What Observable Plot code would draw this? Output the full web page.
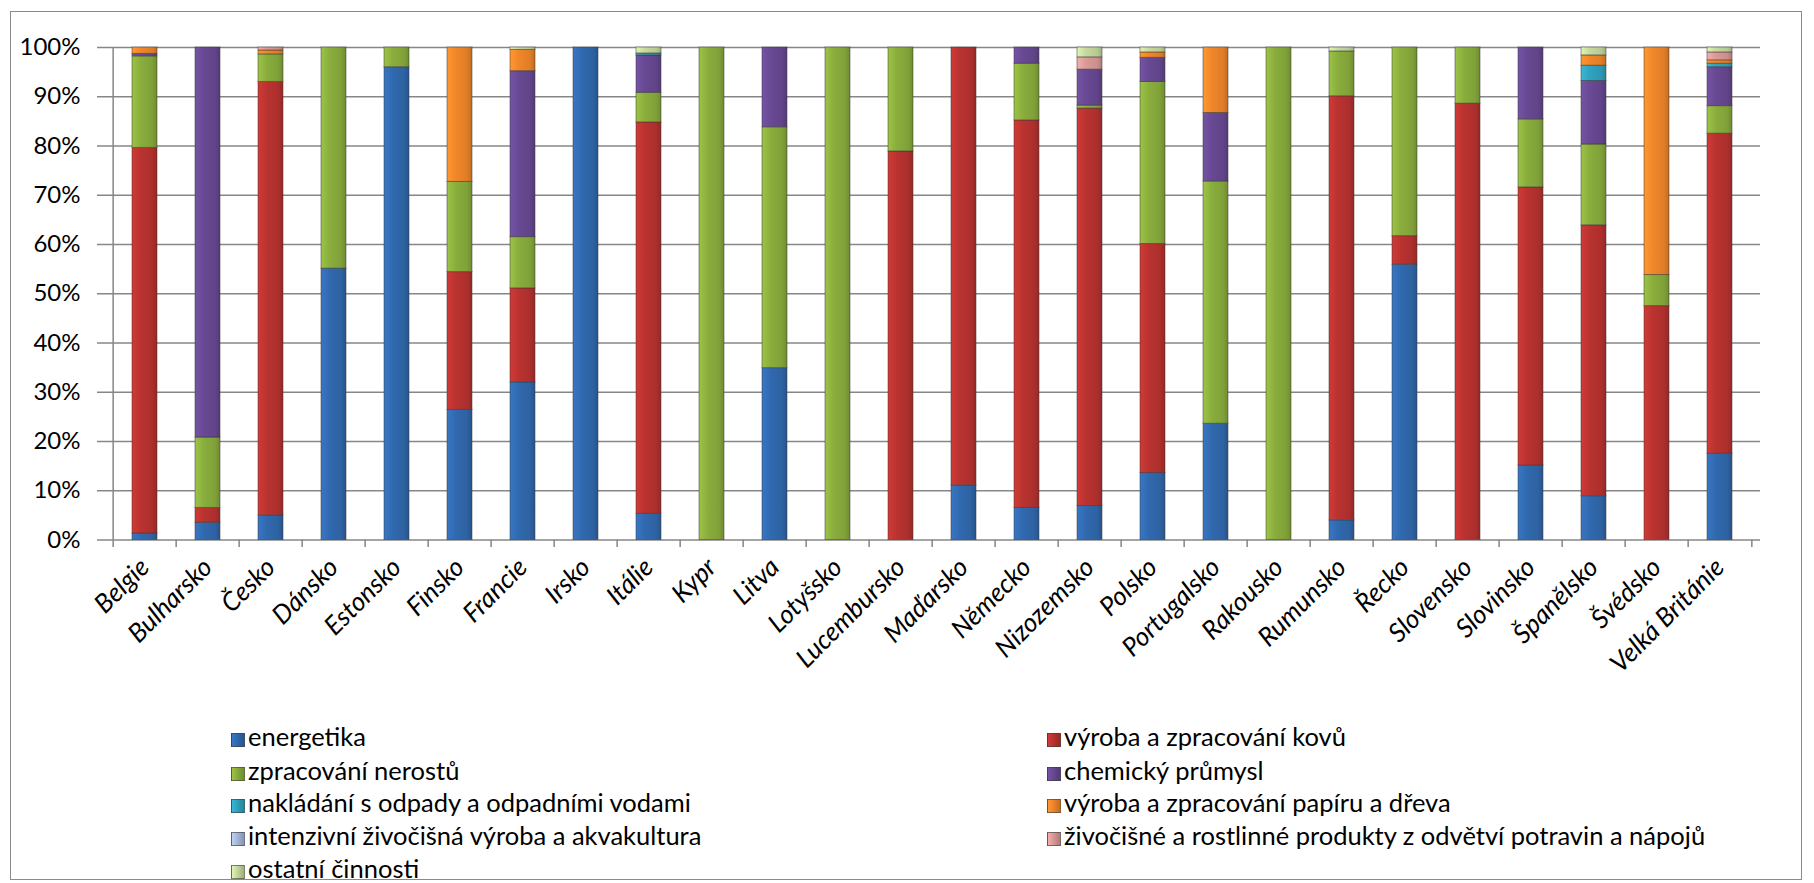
<!DOCTYPE html>
<html>
<head>
<meta charset="utf-8">
<script src="https://cdn.jsdelivr.net/npm/d3@7"></script>
<script src="https://cdn.jsdelivr.net/npm/@observablehq/plot@0.6"></script>
<style>
  html, body { margin: 0; padding: 0; background: #fff; }
  #wrap { position: relative; width: 1814px; height: 883px; overflow: hidden; font-family: Lato, "Open Sans", sans-serif; }
  #frame { position: absolute; left: 10px; top: 11px; width: 1792px; height: 869px; border: 1px solid #8a8a8a; box-sizing: border-box; }
  #chart { position: absolute; left: 0; top: 0; }
  .leg { position: absolute; font-size: 25.5px; color: #000; white-space: nowrap; line-height: 1; }
  .leg .sw { display: inline-block; width: 14px; height: 14px; margin-right: 3px; vertical-align: -1px; box-sizing: border-box; border: 1px solid rgba(60,60,60,0.6); }
  #chart svg g[aria-label="x-axis tick label"] text { font-style: italic; }
</style>
</head>
<body>
<div id="wrap"><div id="frame"></div><div id="chart"></div></div>
<script>
const countries = ["Belgie","Bulharsko","Česko","Dánsko","Estonsko","Finsko","Francie","Irsko","Itálie","Kypr","Litva","Lotyšsko","Lucembursko","Maďarsko","Německo","Nizozemsko","Polsko","Portugalsko","Rakousko","Rumunsko","Řecko","Slovensko","Slovinsko","Španělsko","Švédsko","Velká Británie"];

const seriesNames = [
  "energetika",
  "výroba a zpracování kovů",
  "zpracování nerostů",
  "chemický průmysl",
  "nakládání s odpady a odpadními vodami",
  "výroba a zpracování papíru a dřeva",
  "intenzivní živočišná výroba a akvakultura",
  "živočišné a rostlinné produkty z odvětví potravin a nápojů",
  "ostatní činnosti"
];

// values in % per country (same order as countries)
const energetika = [1.3, 3.5, 5.0, 55.1, 96.0, 26.4, 32.0, 100, 5.3, 0, 34.9, 0, 0, 11.1, 6.5, 6.9, 13.6, 23.6, 0, 4.0, 55.9, 0, 15.1, 8.9, 0, 17.5];
const kovy       = [78.3, 3.0, 88.0, 0, 0, 28.0, 19.1, 0, 79.5, 0, 0, 0, 78.9, 88.9, 78.7, 80.7, 46.5, 0, 0, 86.1, 5.8, 88.6, 56.5, 55.0, 47.5, 65.0];
const nerosty    = [18.6, 14.3, 5.6, 44.9, 4.0, 18.3, 10.4, 0, 6.0, 100, 48.9, 100, 21.1, 0, 11.5, 0.6, 32.9, 49.2, 100, 9.1, 38.3, 11.4, 13.8, 16.4, 6.3, 5.6];
const chemie     = [0.5, 79.2, 0, 0, 0, 0, 33.7, 0, 7.6, 0, 16.2, 0, 0, 0, 3.3, 7.3, 4.9, 13.9, 0, 0, 0, 0, 14.6, 12.9, 0, 7.9];
const odpady     = [0, 0, 0, 0, 0, 0, 0, 0, 0.4, 0, 0, 0, 0, 0, 0, 0, 0, 0, 0, 0, 0, 0, 0, 3.1, 0, 0.7];
const papir      = [1.3, 0, 0.8, 0, 0, 27.3, 4.3, 0, 0, 0, 0, 0, 0, 0, 0, 0, 1.1, 13.3, 0, 0, 0, 0, 0, 2.1, 46.2, 0.7];
const intenzivni = [0, 0, 0, 0, 0, 0, 0, 0, 0, 0, 0, 0, 0, 0, 0, 0, 0, 0, 0, 0, 0, 0, 0, 0, 0, 0];
const potraviny  = [0, 0, 0.6, 0, 0, 0, 0, 0, 0, 0, 0, 0, 0, 0, 0, 2.5, 0, 0, 0, 0, 0, 0, 0, 0, 0, 1.6];
const ostatni    = [0, 0, 0, 0, 0, 0, 0.5, 0, 1.2, 0, 0, 0, 0, 0, 0, 2.0, 1.0, 0, 0, 0.8, 0, 0, 0, 1.6, 0, 1.0];

const seriesValues = [energetika, kovy, nerosty, chemie, odpady, papir, intenzivni, potraviny, ostatni];
const yTicks = [0, 10, 20, 30, 40, 50, 60, 70, 80, 90, 100];

// styles
const baseColors = ["#3169AE", "#B93330", "#8AAD3D", "#684993", "#2FA3BF", "#F1862A", "#A7B8DA", "#D99A98", "#C6D99E"];
const gradIds = baseColors.map((c, i) => "g" + i);

const table = [];
countries.forEach((c, ci) => {
  seriesNames.forEach((s, si) => {
    const v = seriesValues[si][ci];
    if (v > 0) table.push({country: c, series: s, value: v});
  });
});

const W = 1814, H = 700, ML = 104, MR = 54, MT = 47, MB = 160.5;
const step = (W - ML - MR) / countries.length;
const gridColor = "#878787";

const plot = Plot.plot({
  width: W, height: H,
  marginLeft: ML, marginRight: MR, marginTop: MT, marginBottom: MB,
  style: {fontFamily: "Lato, 'Open Sans', sans-serif", background: "transparent", color: "#000"},
  x: {type: "band", domain: countries, paddingInner: 0.6, paddingOuter: 0.3},
  y: {domain: [0, 1]},
  color: {type: "ordinal", domain: seriesNames, range: gradIds.map(id => `url(#${id})`)},
  marks: [
    Plot.ruleY(yTicks, {y: d => d / 100, stroke: gridColor, strokeWidth: 1.5}),
    Plot.ruleX([countries[0]], {x: d => d, dx: -step / 2, y1: 0, y2: 1, stroke: gridColor, strokeWidth: 1.5}),
    Plot.ruleX(countries, {x: d => d, dx: -step / 2, y1: 0, y2: -0.015, stroke: gridColor, strokeWidth: 1.5}),
    Plot.ruleX([countries[countries.length - 1]], {x: d => d, dx: step / 2, y1: 0, y2: -0.015, stroke: gridColor, strokeWidth: 1.5}),
    Plot.barY(table, Plot.stackY({x: "country", y: "value", fill: "series", offset: "normalize", stroke: "#333", strokeOpacity: 0.5, strokeWidth: 1})),
    Plot.axisY(yTicks.map(d => d / 100), {tickFormat: d3.format(".0%"), tickSize: 7, tickPadding: 17, fontSize: 24, stroke: gridColor, strokeWidth: 1.5, label: null}),
    Plot.axisX({tickRotate: -45, tickSize: 0, tickPadding: 23, fontSize: 26, label: null})
  ]
});

const defs = baseColors.map((c, i) => {
  const b = d3.color(c);
  const light = b.brighter(0.35).formatHex();
  const dark = b.darker(0.6).formatHex();
  return `<linearGradient id="${gradIds[i]}" x1="0" x2="1" y1="0" y2="0">
    <stop offset="0" stop-color="${light}"/>
    <stop offset="0.35" stop-color="${c}"/>
    <stop offset="0.8" stop-color="${b.darker(0.2).formatHex()}"/>
    <stop offset="1" stop-color="${dark}"/>
  </linearGradient>`;
}).join("");
plot.insertAdjacentHTML("afterbegin", `<defs>${defs}</defs>`);
document.getElementById("chart").appendChild(plot);
plot.querySelectorAll('g[aria-label="x-axis tick label"] text').forEach(t => t.setAttribute("font-style", "italic"));

// legend (two columns, row-major)
const wrap = document.getElementById("wrap");
const colX = [231, 1047];
const rowY = [737, 770.5, 803, 836, 869];
seriesNames.forEach((s, i) => {
  const col = i % 2, row = Math.floor(i / 2);
  const el = document.createElement("div");
  el.className = "leg";
  el.style.left = colX[col] + "px";
  el.style.top = (rowY[row] - 13) + "px";
  const sw = document.createElement("span");
  sw.className = "sw";
  const b = d3.color(baseColors[i]);
  sw.style.background = `linear-gradient(90deg, ${b.brighter(0.35).formatHex()}, ${baseColors[i]} 40%, ${b.darker(0.6).formatHex()})`;
  el.appendChild(sw);
  el.appendChild(document.createTextNode(s));
  wrap.appendChild(el);
});
</script>
</body>
</html>
